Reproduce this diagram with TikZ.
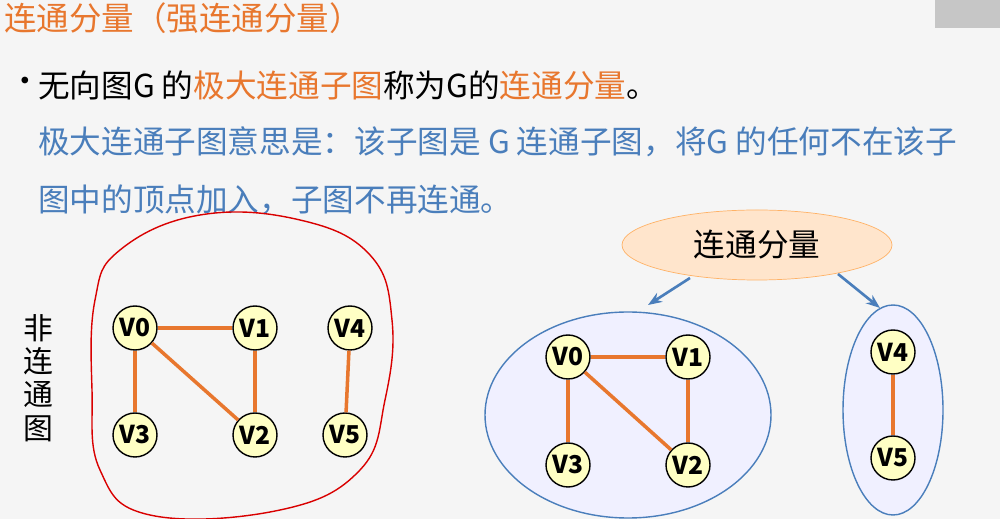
\documentclass[tikz,border=0pt]{standalone}
\usepackage{fontspec}
\setmainfont{Noto Sans CJK SC}
\usetikzlibrary{arrows.meta}
\definecolor{org}{HTML}{E8772E}
\definecolor{blu}{HTML}{4A7EBB}
\definecolor{vfill}{HTML}{FFFFC4}
\begin{document}
\begin{tikzpicture}[x=0.02cm,y=-0.02cm,
  v/.style={circle,draw=black,thick,fill=vfill,minimum size=0.88cm,inner sep=0pt,font=\fontsize{14}{14}\selectfont\bfseries},
  e/.style={org,line width=2pt},
  ar/.style={blu,line width=1.5pt,-{Stealth[length=8pt]}},
  txt/.style={anchor=west,font=\fontsize{18}{18}\selectfont}]
\fill[gray!8] (0,0) rectangle (1000,519);
\useasboundingbox (0,0) rectangle (1000,519);
\fill[gray!45] (935,0) rectangle (1000,28);
\node[txt,org,font=\fontsize{18.5}{18}\selectfont] (title) at (-2,18) {连通分量（强连通分量）};
\node[txt] (bul) at (3,85) {•};
\node[txt] (l1) at (32,85) {无向图G 的\textcolor{org}{极大连通子图}称为G的\textcolor{org}{连通分量}。};
\node[txt,blu] (l2) at (32,142) {极大连通子图意思是：该子图是 G 连通子图，将G 的任何不在该子};
\node[txt,blu] (l3) at (32,200) {图中的顶点加入，子图不再连通。};
\node[font=\fontsize{17}{19}\selectfont,align=center] (fl) at (38,378) {非\\连\\通\\图};
\draw[red!85!black,thick] plot[smooth cycle,tension=0.7] coordinates {(120,250) (200,215) (300,220) (370,255) (392,320) (385,400) (360,470) (280,510) (150,515) (100,470) (92,390) (95,300)};
\node[v] (a0) at (135,328) {V0};
\node[v] (a1) at (255,328) {V1};
\node[v] (a4) at (350,328) {V4};
\node[v] (a3) at (135,435) {V3};
\node[v] (a2) at (255,435) {V2};
\node[v] (a5) at (345,435) {V5};
\draw[e] (a0)--(a1); \draw[e] (a0)--(a3); \draw[e] (a0)--(a2); \draw[e] (a1)--(a2); \draw[e] (a4)--(a5);
\filldraw[draw=orange!60,fill=orange!20] (757,245) ellipse [x radius=135,y radius=35];
\node[font=\fontsize{18}{18}\selectfont] (cc) at (757,245) {连通分量};
\coordinate (s1) at (690,278); \coordinate (t1) at (648,305);
\coordinate (s2) at (838,274); \coordinate (t2) at (880,308);
\draw[ar] (s1)--(t1); \draw[ar] (s2)--(t2);
\filldraw[draw=blu,thick,fill=blue!6] (628,415) ellipse [x radius=143,y radius=103];
\filldraw[draw=blu,thick,fill=blue!6] (893,410) ellipse [x radius=50,y radius=105];
\node[v] (b0) at (568,357) {V0};
\node[v] (b1) at (688,357) {V1};
\node[v] (b3) at (568,465) {V3};
\node[v] (b2) at (688,465) {V2};
\node[v] (b4) at (893,352) {V4};
\node[v] (b5) at (893,458) {V5};
\draw[e] (b0)--(b1); \draw[e] (b0)--(b3); \draw[e] (b0)--(b2); \draw[e] (b1)--(b2); \draw[e] (b4)--(b5);
\end{tikzpicture}
\end{document}
